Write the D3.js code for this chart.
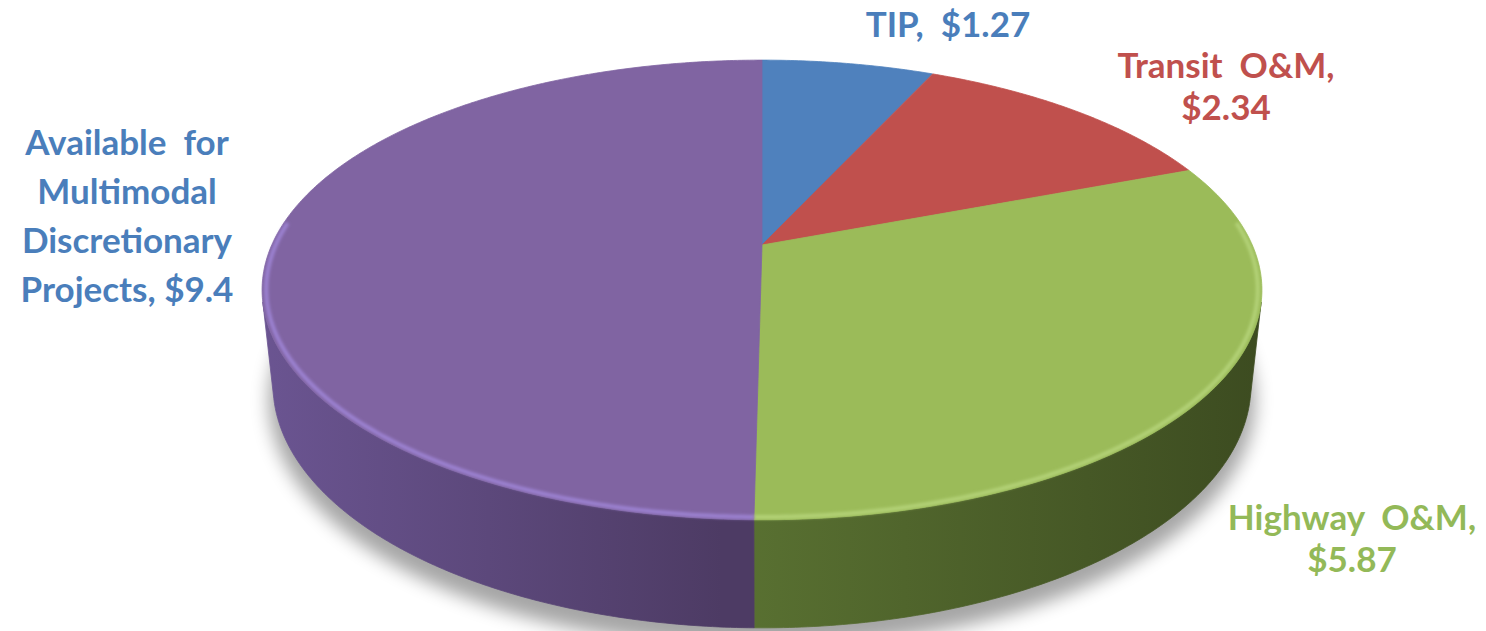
<html>
<head>
  <title>Funding pie</title>
  <script type="text/javascript" src="https://cdn.jsdelivr.net/npm/d3@7"></script>
  <style type="text/css">
    body { margin: 0; background: #fff; }
    .label { font-family: Lato, "Open Sans", sans-serif; font-weight: 700; font-size: 35px; }
  </style>
</head>
<body>
  <script>
  // Width and height
  const w = 1486;
  const h = 631;

  // Data
  const categories = ["TIP", "Transit O&M", "Highway O&M", "Available for Multimodal Discretionary Projects"];
  const values = [1.27, 2.34, 5.87, 9.4];
  const topColors = ["#4f81bd", "#c0504d", "#9bbb59", "#8064a2"];
  const sideLight = ["#3f6797", "#9a403d", "#5a7232", "#6b5592"];
  const sideDark = ["#2f4e73", "#74302e", "#3c4b20", "#4d3b64"];
  const rimColors = ["#6d9bd6", "#dc706d", "#b3d277", "#9c82d2"];
  const labelLines = [
    ["TIP,  $1.27"],
    ["Transit  O&M,", "$2.34"],
    ["Highway  O&M,", "$5.87"],
    ["Available  for", "Multimodal", "Discretionary", "Projects, $9.4"]
  ];
  const labelColors = ["#4a7ebb", "#c0504d", "#93b958", "#4a7ebb"];

  // Camera for the 3d look
  const cx = 762, cy = 245;
  const tilt = 26.8 * Math.PI / 180;
  const sn = Math.sin(tilt), cs = Math.cos(tilt);
  const dist = 4.565, focal = 2238, depth = 0.2175;

  // angle (clockwise from back), radius, height -> screen
  function project(a, r, y) {
    const x = r * Math.sin(a), z = -r * Math.cos(a);
    const d = dist - y * sn - z * cs;
    return [cx + focal * x / d, cy + focal * (z * sn - y * cs) / d];
  }

  const pie = d3.pie().sort(null).value(function(d) { return d; });
  const arcs = pie(values);

  // visible part of the side wall
  const edge = Math.acos(-1 / (dist * cs));
  const visLo = edge, visHi = 2 * Math.PI - edge;

  const line = d3.line().curve(d3.curveLinear);

  function arcPoints(a0, a1, r, y) {
    const n = Math.max(2, Math.ceil(Math.abs(a1 - a0) / 0.01));
    const t = d3.scaleLinear().domain([0, n]).range([a0, a1]);
    return d3.range(n + 1).map(function(i) { return project(t(i), r, y); });
  }

  const svg = d3.select("body")
    .append("svg")
    .attr("width", w)
    .attr("height", h);

  const defs = svg.append("defs");
  defs.append("filter").attr("id", "blur")
    .attr("x", "-20%").attr("y", "-20%").attr("width", "140%").attr("height", "140%")
    .append("feGaussianBlur").attr("stdDeviation", 9);
  defs.append("filter").attr("id", "soft")
    .append("feGaussianBlur").attr("stdDeviation", 1.6);

  arcs.forEach(function(d, i) {
    const g = defs.append("linearGradient")
      .attr("id", "side" + i)
      .attr("gradientUnits", "userSpaceOnUse")
      .attr("x1", i === 3 ? 255 : 722).attr("x2", i === 3 ? 722 : 1270)
      .attr("y1", 0).attr("y2", 0);
    g.append("stop").attr("offset", 0).attr("stop-color", sideLight[i]);
    g.append("stop").attr("offset", 1).attr("stop-color", sideDark[i]);
  });

  // Shadow under the pie
  svg.append("path")
    .attr("d", line(arcPoints(0, 2 * Math.PI, 1.01, -depth - 0.02)) + "Z")
    .attr("transform", "translate(0,6)")
    .attr("fill", "#000")
    .attr("opacity", 0.35)
    .attr("filter", "url(#blur)");

  // Side walls
  arcs.forEach(function(d, i) {
    const a0 = Math.max(d.startAngle, visLo);
    const a1 = Math.min(d.endAngle, visHi);
    if (a1 <= a0) return;
    const pts = arcPoints(a0, a1, 1, 0).concat(arcPoints(a1, a0, 1, -depth));
    svg.append("path")
      .attr("d", line(pts) + "Z")
      .attr("fill", "url(#side" + i + ")")
      .attr("stroke", "url(#side" + i + ")")
      .attr("stroke-width", 0.8);
  });

  // Top faces
  arcs.forEach(function(d, i) {
    const pts = [project(0, 0, 0)].concat(arcPoints(d.startAngle, d.endAngle, 1, 0));
    svg.append("path")
      .attr("d", line(pts) + "Z")
      .attr("fill", topColors[i])
      .attr("stroke", topColors[i])
      .attr("stroke-width", 0.8)
      .attr("stroke-linejoin", "round");
  });

  // Bevel highlight along the front rim
  arcs.forEach(function(d, i) {
    const a0 = Math.max(d.startAngle, visLo - 0.35);
    const a1 = Math.min(d.endAngle, visHi + 0.35);
    if (a1 <= a0) return;
    svg.append("path")
      .attr("d", line(arcPoints(a0, a1, 0.992, 0)))
      .attr("fill", "none")
      .attr("stroke", rimColors[i])
      .attr("stroke-width", 4)
      .attr("filter", "url(#soft)");
  });

  // Labels
  const labelPos = [[948, 37], [1226, 78], [1352, 530], [127, 155]];
  const lineGap = 42;
  labelLines.forEach(function(lines, i) {
    const t = svg.append("text")
      .attr("class", "label")
      .attr("text-anchor", "middle")
      .attr("fill", labelColors[i])
      .attr("x", labelPos[i][0])
      .attr("y", labelPos[i][1]);
    lines.forEach(function(s, k) {
      t.append("tspan")
        .attr("x", labelPos[i][0])
        .attr("dy", k === 0 ? 0 : (i === 3 ? 49 : lineGap))
        .style("white-space", "pre")
        .text(s);
    });
  });
  </script>
</body>
</html>
